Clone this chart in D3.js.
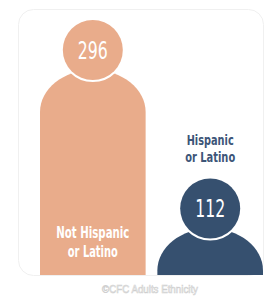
<!DOCTYPE html>
<html><head><meta charset="utf-8">
<script src="https://cdn.jsdelivr.net/npm/d3@7"></script>
<style>html,body{margin:0;padding:0;background:#fff;}svg{display:block;}</style>
</head><body>
<script>
const categories = ["Not Hispanic or Latino", "Hispanic or Latino"];
const labelLines = [["Not Hispanic", "or Latino"], ["Hispanic", "or Latino"]];
const values = [296, 112];
const colors = ["#E9AC8B", "#36506F"];
const caption = "©CFC Adults Ethnicity";

const W = 272, H = 296;
const svg = d3.select("body").append("svg").attr("width", W).attr("height", H);

svg.append("rect").attr("x", 18.5).attr("y", 9.5).attr("width", 245).attr("height", 266)
  .attr("rx", 15).attr("fill", "#fff").attr("stroke", "#f0f0f0").attr("stroke-width", 1);

const x = d3.scaleBand().domain(categories).range([40, 263]).paddingInner(0.1).paddingOuter(0);
const y = d3.scaleLinear().domain([0, 296]).range([275, 20]);

const headR = 30, ry = 42;
const font = "'Liberation Sans Narrow','DejaVu Sans Condensed',sans-serif";

categories.forEach((c, i) => {
  const x0 = x(c), bw = x.bandwidth(), cx = x0 + bw / 2;
  const top = y(values[i]), bottom = y(0);
  const apex = top + 50;
  const rx = bw / 2;
  const g = svg.append("g");
  const p = d3.path();
  p.moveTo(x0, bottom);
  p.lineTo(x0, apex + ry);
  const k = 0.5523;
  p.bezierCurveTo(x0, apex + ry - k * ry, cx - k * rx, apex, cx, apex);
  p.bezierCurveTo(cx + k * rx, apex, x0 + bw, apex + ry - k * ry, x0 + bw, apex + ry);
  p.lineTo(x0 + bw, bottom);
  p.closePath();
  g.append("path").attr("d", p.toString()).attr("fill", colors[i]);
  g.append("circle").attr("cx", cx).attr("cy", top + headR).attr("r", headR)
    .attr("fill", colors[i]).attr("stroke", "#fff").attr("stroke-width", 4);
  g.append("circle").attr("cx", cx).attr("cy", top + headR).attr("r", headR)
    .attr("fill", colors[i]);
  g.append("text").attr("x", cx).attr("y", top + headR + 8.5).attr("text-anchor", "middle")
    .attr("font-family", font).attr("font-size", 24).attr("fill", "#fff")
    .attr("textLength", String(values[i]).length * 10).attr("lengthAdjust", "spacingAndGlyphs")
    .text(values[i]);
  const inside = i === 0;
  const base = inside ? [bottom - 37, bottom - 18] : [top - 33.5, top - 16.5];
  const widths = inside ? [73, 50] : [47, 50];
  const fs = inside ? 15 : 14;
  labelLines[i].forEach((t, j) => {
    g.append("text").attr("x", cx).attr("y", base[j]).attr("text-anchor", "middle")
      .attr("font-family", font).attr("font-weight", "bold").attr("font-size", fs)
      .attr("fill", inside ? "#fff" : "#3D5578")
      .attr("textLength", widths[j]).attr("lengthAdjust", "spacingAndGlyphs")
      .text(t);
  });
});

svg.append("text").attr("x", 150).attr("y", 293).attr("text-anchor", "middle")
  .attr("font-family", "'Liberation Sans','Arial',sans-serif").attr("font-size", 10)
  .attr("fill", "#fff").attr("stroke", "#cfcfcf").attr("stroke-width", 0.6)
  .attr("textLength", 96).attr("lengthAdjust", "spacingAndGlyphs")
  .text(caption);
</script>
</body></html>
